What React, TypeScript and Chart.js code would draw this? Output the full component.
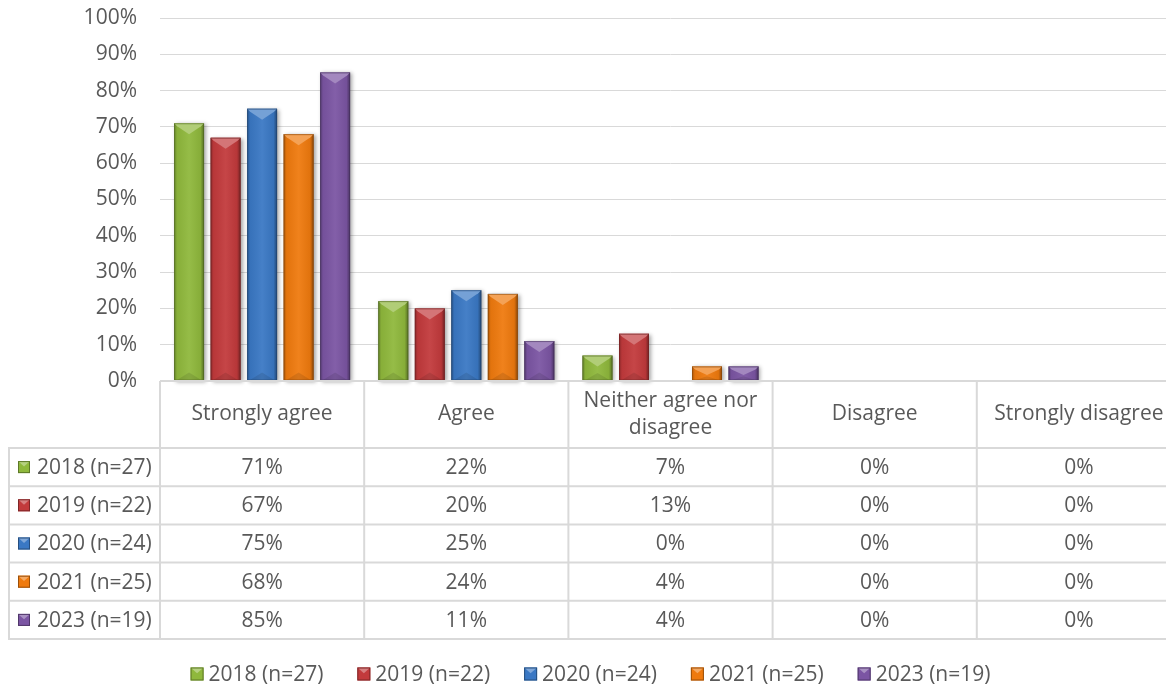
import { useEffect, useRef } from "react";
import { Chart, registerables } from "chart.js";

Chart.register(...registerables);

// Survey response categories (columns of the data table)
const categories = [
  "Strongly agree",
  "Agree",
  "Neither agree nor disagree",
  "Disagree",
  "Strongly disagree",
];

// Survey waves
const seriesLabels = ["2018 (n=27)", "2019 (n=22)", "2020 (n=24)", "2021 (n=25)", "2023 (n=19)"];

// Percentage of respondents per category
const values2018 = [71, 22, 7, 0, 0];
const values2019 = [67, 20, 13, 0, 0];
const values2020 = [75, 25, 0, 0, 0];
const values2021 = [68, 24, 4, 0, 0];
const values2023 = [85, 11, 4, 0, 0];

const seriesValues = [values2018, values2019, values2020, values2021, values2023];
const seriesColors = ["#8fb83c", "#c23a3c", "#3a78c4", "#ef7a0e", "#7b55a3"];

// Value axis
const yMin = 0;
const yMax = 100;
const yStep = 10;

const FONT_FAMILY = '"Open Sans", "Noto Sans", sans-serif';
const FONT_SIZE = 21;
const TEXT_COLOR = "#595959";
const LINE_COLOR = "#d9d9d9";

function shade(hex: string, amt: number): string {
  const n = parseInt(hex.slice(1), 16);
  let r = (n >> 16) & 255;
  let g = (n >> 8) & 255;
  let b = n & 255;
  if (amt >= 0) {
    r = r + (255 - r) * amt;
    g = g + (255 - g) * amt;
    b = b + (255 - b) * amt;
  } else {
    r = r * (1 + amt);
    g = g * (1 + amt);
    b = b * (1 + amt);
  }
  return `rgb(${Math.round(r)},${Math.round(g)},${Math.round(b)})`;
}

// Small bevelled colour key used in the table row headers and the legend
function drawSwatch(ctx: CanvasRenderingContext2D, x: number, y: number, s: number, color: string) {
  ctx.save();
  ctx.fillStyle = color;
  ctx.fillRect(x, y, s, s);
  ctx.fillStyle = shade(color, 0.35);
  ctx.beginPath();
  ctx.moveTo(x, y);
  ctx.lineTo(x + s, y);
  ctx.lineTo(x + s / 2, y + s * 0.45);
  ctx.closePath();
  ctx.fill();
  ctx.strokeStyle = shade(color, -0.35);
  ctx.lineWidth = 1;
  ctx.strokeRect(x + 0.5, y + 0.5, s - 1, s - 1);
  ctx.restore();
}

function wrapText(ctx: CanvasRenderingContext2D, text: string, maxW: number): string[] {
  const words = text.split(" ");
  const lines: string[] = [];
  let cur = "";
  for (const w of words) {
    const test = cur ? cur + " " + w : w;
    if (ctx.measureText(test).width > maxW && cur) {
      lines.push(cur);
      cur = w;
    } else {
      cur = test;
    }
  }
  if (cur) lines.push(cur);
  return lines;
}

function barRect(el: any) {
  const p = el.getProps(["x", "y", "base", "width"], true);
  const l = p.x - p.width / 2;
  const r = p.x + p.width / 2;
  const t = Math.min(p.y, p.base);
  const b = Math.max(p.y, p.base);
  return { l, r, t, b, cx: p.x, w: p.width, h: b - t };
}

// Drop shadow behind each bar, then bevel shading on top of it
const barBevelPlugin = {
  id: "barBevel",
  beforeDatasetsDraw(chart: any) {
    const ctx: CanvasRenderingContext2D = chart.ctx;
    ctx.save();
    chart.data.datasets.forEach((_: any, i: number) => {
      const meta = chart.getDatasetMeta(i);
      meta.data.forEach((el: any) => {
        const { l, t, w, h } = barRect(el);
        if (h < 0.5) return;
        ctx.shadowColor = "rgba(0,0,0,0.35)";
        ctx.shadowBlur = 4;
        ctx.shadowOffsetX = 2;
        ctx.shadowOffsetY = 1;
        ctx.fillStyle = "rgba(120,120,120,1)";
        ctx.fillRect(l, t, w, h);
      });
    });
    ctx.restore();
  },
  afterDatasetsDraw(chart: any) {
    const ctx: CanvasRenderingContext2D = chart.ctx;
    ctx.save();
    chart.data.datasets.forEach((_: any, i: number) => {
      const meta = chart.getDatasetMeta(i);
      const color = seriesColors[i];
      meta.data.forEach((el: any) => {
        const { l, r, t, b, cx, w, h } = barRect(el);
        if (h < 0.5) return;
        // side shading
        const g = ctx.createLinearGradient(l, 0, r, 0);
        g.addColorStop(0, "rgba(0,0,0,0.28)");
        g.addColorStop(0.1, "rgba(0,0,0,0.05)");
        g.addColorStop(0.5, "rgba(255,255,255,0.06)");
        g.addColorStop(0.88, "rgba(0,0,0,0.06)");
        g.addColorStop(1, "rgba(0,0,0,0.4)");
        ctx.fillStyle = g;
        ctx.fillRect(l, t, w, h);
        // top facet
        const d = Math.min(11, h * 0.6, w / 2);
        ctx.fillStyle = shade(color, 0.3);
        ctx.beginPath();
        ctx.moveTo(l, t);
        ctx.lineTo(r, t);
        ctx.lineTo(r - 3, t + Math.min(3, d));
        ctx.lineTo(cx, t + d);
        ctx.lineTo(l + 3, t + Math.min(3, d));
        ctx.closePath();
        ctx.fill();
        // bottom facet
        const db = Math.min(8, h * 0.3, w / 2);
        ctx.fillStyle = "rgba(0,0,0,0.1)";
        ctx.beginPath();
        ctx.moveTo(l + 2, b);
        ctx.lineTo(r - 2, b);
        ctx.lineTo(cx, b - db);
        ctx.closePath();
        ctx.fill();
        // outline
        ctx.strokeStyle = shade(color, -0.45);
        ctx.globalAlpha = 0.55;
        ctx.lineWidth = 1;
        ctx.strokeRect(l + 0.5, t + 0.5, w - 1, h - 1);
        ctx.globalAlpha = 1;
      });
    });
    ctx.restore();
  },
};

// Data table under the plot plus the bottom legend
const tableLegendPlugin = {
  id: "tableLegend",
  afterDraw(chart: any) {
    const ctx: CanvasRenderingContext2D = chart.ctx;
    const area = chart.chartArea;
    const xScale = chart.scales.x;
    const n = categories.length;
    const colW = (area.right - area.left) / n;
    const headerH = 67;
    const rowH = 38.2;
    const top = area.bottom;
    const headerBottom = top + headerH;
    const tableBottom = headerBottom + rowH * seriesLabels.length;
    const labelLeft = 0;
    const font = `${FONT_SIZE}px ${FONT_FAMILY}`;

    ctx.save();
    ctx.strokeStyle = LINE_COLOR;
    ctx.lineWidth = 2;
    ctx.beginPath();
    // header top (also the category axis line)
    ctx.moveTo(area.left, top);
    ctx.lineTo(area.right, top);
    // row separators
    for (let r = 0; r <= seriesLabels.length; r++) {
      const y = headerBottom + r * rowH;
      ctx.moveTo(labelLeft, y);
      ctx.lineTo(area.right, y);
    }
    // column separators
    for (let c = 0; c <= n; c++) {
      const x = area.left + c * colW;
      ctx.moveTo(x, top);
      ctx.lineTo(x, tableBottom);
    }
    ctx.moveTo(labelLeft + 1, headerBottom);
    ctx.lineTo(labelLeft + 1, tableBottom);
    ctx.stroke();

    ctx.fillStyle = TEXT_COLOR;
    ctx.font = font;
    ctx.textBaseline = "middle";
    ctx.textAlign = "center";

    // header texts
    categories.forEach((cat, c) => {
      const cx = xScale.getPixelForValue(c);
      const lines = wrapText(ctx, cat, colW - 16);
      const lh = 27;
      const mid = top + headerH / 2;
      lines.forEach((ln, k) => {
        ctx.fillText(ln, cx, mid + (k - (lines.length - 1) / 2) * lh);
      });
    });

    // rows
    seriesLabels.forEach((label, r) => {
      const yMid = headerBottom + r * rowH + rowH / 2;
      drawSwatch(ctx, 10, yMid - 6, 12, seriesColors[r]);
      ctx.fillStyle = TEXT_COLOR;
      ctx.textAlign = "left";
      ctx.fillText(label, 29, yMid + 1);
      ctx.textAlign = "center";
      seriesValues[r].forEach((v, c) => {
        ctx.fillText(`${v}%`, xScale.getPixelForValue(c), yMid + 1);
      });
    });

    // legend
    const box = 13;
    const boxGap = 5;
    const itemGap = 34;
    const widths = seriesLabels.map((l) => box + boxGap + ctx.measureText(l).width);
    const total = widths.reduce((a, b) => a + b, 0) + itemGap * (widths.length - 1);
    const legendCenter = chart.width / 2 - 5;
    const legendY = 666;
    let x = legendCenter - total / 2;
    seriesLabels.forEach((label, i) => {
      drawSwatch(ctx, x, legendY - box / 2, box, seriesColors[i]);
      ctx.fillStyle = TEXT_COLOR;
      ctx.textAlign = "left";
      ctx.fillText(label, x + box + boxGap, legendY + 1);
      x += widths[i] + itemGap;
    });
    ctx.restore();
  },
};

export default function App() {
  const canvasRef = useRef<HTMLCanvasElement | null>(null);

  useEffect(() => {
    if (!canvasRef.current) return;
    const chart = new Chart(canvasRef.current, {
      type: "bar",
      data: {
        labels: categories,
        datasets: seriesLabels.map((label, i) => ({
          label,
          data: seriesValues[i],
          backgroundColor: seriesColors[i],
          borderWidth: 0,
          categoryPercentage: 0.894,
          barPercentage: 0.82,
        })),
      },
      options: {
        responsive: false,
        animation: false,
        layout: { padding: { top: 10, right: 2, bottom: 305, left: 0 } },
        plugins: {
          legend: { display: false },
          tooltip: { enabled: false },
        },
        scales: {
          x: { display: false },
          y: {
            min: yMin,
            max: yMax,
            ticks: {
              stepSize: yStep,
              padding: 0,
              color: TEXT_COLOR,
              font: { family: FONT_FAMILY, size: FONT_SIZE, lineHeight: 0.9 },
              callback: (v: any) => `${v}%`,
            },
            grid: {
              color: LINE_COLOR,
              lineWidth: 1,
              drawTicks: true,
              tickLength: 23,
              tickColor: "rgba(0,0,0,0)",
            },
            border: { display: false },
            afterFit: (scale: any) => {
              scale.width = 152;
            },
          },
        },
      },
      plugins: [barBevelPlugin, tableLegendPlugin],
    });
    return () => chart.destroy();
  }, []);

  return (
    <div style={{ width: 1166, height: 678, overflow: "hidden" }}>
      <canvas ref={canvasRef} width={1175} height={678} style={{ display: "block" }} />
    </div>
  );
}
